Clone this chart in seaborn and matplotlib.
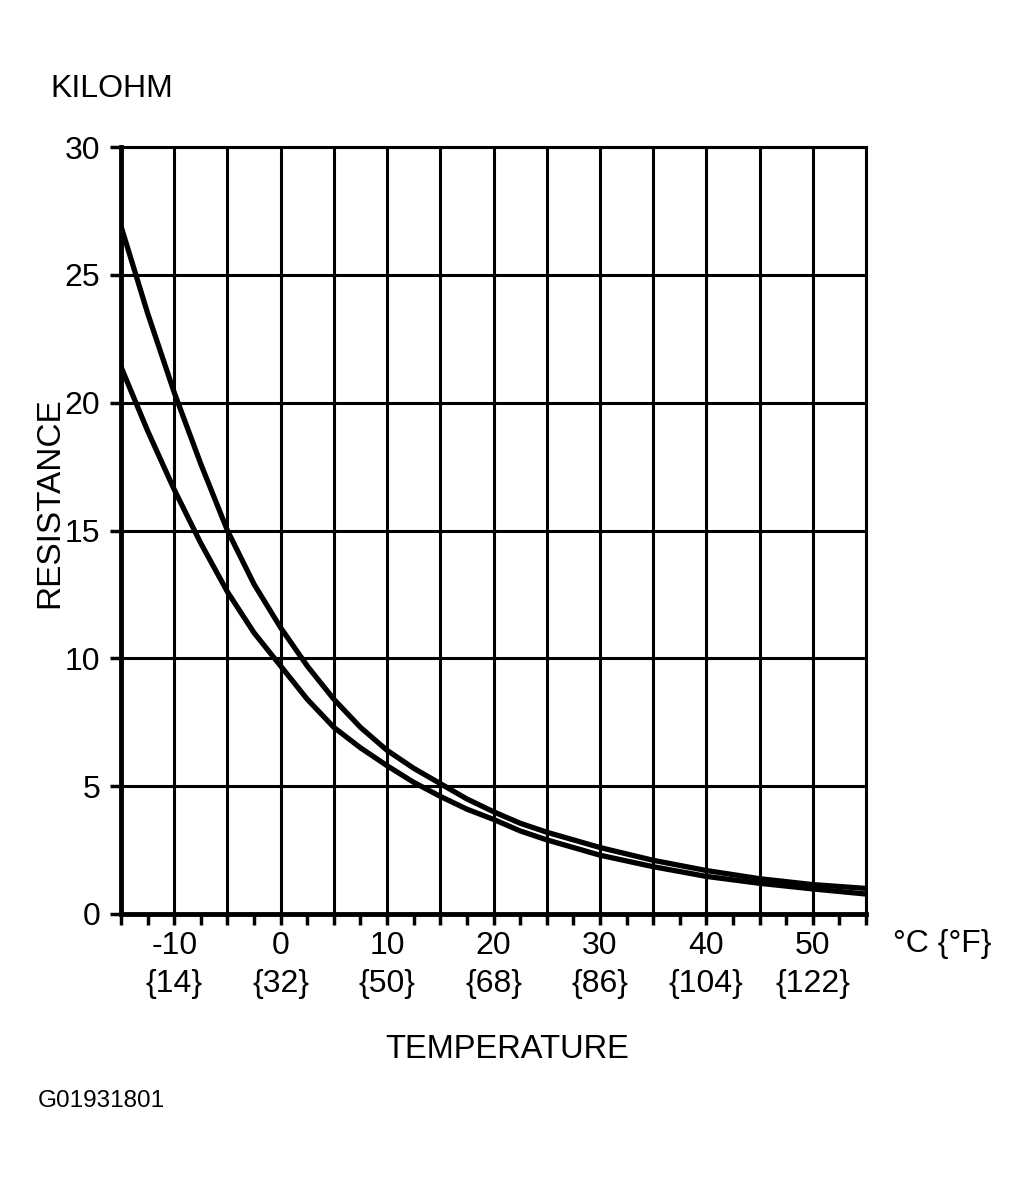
import numpy as np
import pandas as pd
import matplotlib
matplotlib.use("Agg")
import matplotlib.pyplot as plt
import seaborn as sns

# temperature (deg C) and resistance (kilohm)
temp_c = [-15, -12.5, -10, -7.5, -5, -2.5, 0, 2.5, 5, 7.5, 10, 12.5,
          15, 17.5, 20, 22.5, 25, 30, 35, 40, 45, 50, 55]
upper_kohm = [26.9, 23.5, 20.4, 17.6, 15.0, 12.9, 11.2, 9.7, 8.4, 7.3, 6.4, 5.7,
              5.1, 4.5, 4.0, 3.55, 3.2, 2.6, 2.1, 1.7, 1.38, 1.15, 1.0]
lower_kohm = [21.4, 18.9, 16.6, 14.5, 12.6, 11.0, 9.7, 8.4, 7.3, 6.5, 5.8, 5.15,
              4.6, 4.1, 3.7, 3.25, 2.9, 2.3, 1.85, 1.47, 1.2, 0.98, 0.78]

x_label_vals = [-10, 0, 10, 20, 30, 40, 50]
x_label_f = ["{14}", "{32}", "{50}", "{68}", "{86}", "{104}", "{122}"]

df = pd.DataFrame({
    "temp": temp_c * 2,
    "kohm": upper_kohm + lower_kohm,
    "bound": ["upper"] * len(temp_c) + ["lower"] * len(temp_c),
})

sns.set_style("white")
plt.rcParams['font.family'] = ['Liberation Sans', 'DejaVu Sans']
plt.rcParams['text.color'] = 'black'
plt.rcParams['xtick.color'] = 'black'
plt.rcParams['ytick.color'] = 'black'

fig = plt.figure(figsize=(10.29, 11.83), dpi=100)
ax = fig.add_axes([0.1176, 0.2274, 0.724, 0.6483])

sns.lineplot(data=df, x="temp", y="kohm", hue="bound",
             palette={"upper": "black", "lower": "black"},
             linewidth=3.8, legend=False, ax=ax, zorder=3)

ax.set_xlim(-15, 55)
ax.set_ylim(0, 30)

# grid every 5 degrees / 5 kilohm
ax.set_xticks(np.arange(-15, 56, 5))
ax.set_xticks(np.arange(-12.5, 55, 5), minor=True)
ax.set_yticks(np.arange(0, 31, 5))
ax.grid(True, which="major", color="black", linewidth=2.2)

lab = []
for v in np.arange(-15, 56, 5):
    if v in x_label_vals:
        lab.append(f"{v}\n{x_label_f[x_label_vals.index(v)]}")
    else:
        lab.append("")
ax.set_xticklabels(lab, linespacing=1.35)
ax.tick_params(axis="x", which="both", direction="out", length=8, width=2.5,
               colors="black", labelsize=23, pad=4, bottom=True)
ax.tick_params(axis="y", direction="out", length=8, width=2.5,
               colors="black", labelsize=23, pad=7, left=True)

for side in ["left", "bottom"]:
    ax.spines[side].set_linewidth(3.5)
    ax.spines[side].set_color("black")
for side in ["top", "right"]:
    ax.spines[side].set_linewidth(2.2)
    ax.spines[side].set_color("black")

ax.set_xlabel("")
ax.set_ylabel("")

fig.text(50 / 1029, 1 - 89 / 1183, "KILOHM", fontsize=23, va="center", ha="left")
fig.text(50 / 1029, 1 - 503 / 1183, "RESISTANCE", fontsize=24, rotation=90,
         va="center", ha="center")
fig.text(893 / 1029, 1 - 944 / 1183, "°C {°F}", fontsize=23, va="center", ha="left")
fig.text(507 / 1029, 1 - 1050 / 1183, "TEMPERATURE", fontsize=23.5, va="center", ha="center")
fig.text(38 / 1029, 1 - 1101 / 1183, "G01931801", fontsize=17.5, va="center", ha="left")

fig.savefig("out.png", dpi=100, facecolor="white")
